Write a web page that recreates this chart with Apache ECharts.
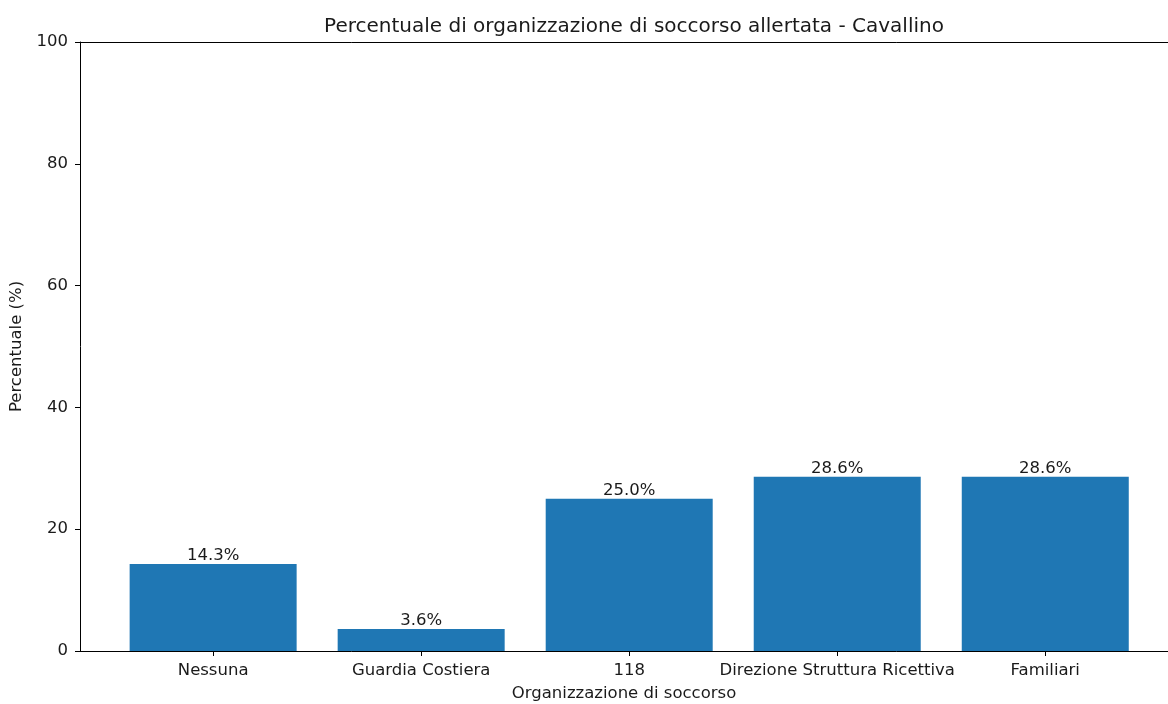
<!DOCTYPE html>
<html>
<head>
<meta charset="utf-8">
<script src="https://cdn.jsdelivr.net/npm/echarts@6/dist/echarts.min.js"></script>
<style>
  html, body { margin: 0; padding: 0; background: #fff; }
  #chart { width: 1168px; height: 704px; }
</style>
</head>
<body>
<div id="chart"></div>
<script>
// Categories and percentages of the alerted rescue organisations
const categories = ['Nessuna', 'Guardia Costiera', '118', 'Direzione Struttura Ricettiva', 'Familiari'];
const percentages = [14.3, 3.6, 25.0, 28.6, 28.6];
const yTicks = [0, 20, 40, 60, 80, 100];

const FONT = 'DejaVu Sans';
const TEXT = '#1a1a1a';
const chart = echarts.init(document.getElementById('chart'), null, { renderer: 'canvas' });

const positions = categories.map((_, i) => i);
// visible x range in category units (the right edge runs to the page border)
const X_MIN = -0.64;
const X_MAX = 4.59;

chart.setOption({
  animation: false,
  title: {
    text: 'Percentuale di organizzazione di soccorso allertata - Cavallino',
    left: 629,
    textAlign: 'center',
    top: 12,
    textStyle: { fontFamily: FONT, fontSize: 20, fontWeight: 'normal', color: TEXT }
  },
  grid: { left: 80, top: 42, right: 0, bottom: 53, containLabel: false, outerBoundsMode: 'none' },
  xAxis: [{
    type: 'value',
    min: X_MIN,
    max: X_MAX,
    name: 'Organizzazione di soccorso',
    nameLocation: 'middle',
    nameGap: 34,
    nameTextStyle: { fontFamily: FONT, fontSize: 16.5, color: TEXT },
    splitLine: { show: false },
    axisLine: { show: true, onZero: false, lineStyle: { color: '#000', width: 1 } },
    axisTick: { show: true, length: 5, lineStyle: { color: '#000' }, customValues: positions },
    axisLabel: {
      customValues: positions,
      fontFamily: FONT, fontSize: 16.5, color: TEXT, margin: 11,
      formatter: v => categories[Math.round(v)]
    }
  }, {
    type: 'value',
    position: 'top',
    min: X_MIN,
    max: X_MAX,
    splitLine: { show: false },
    axisLine: { show: true, onZero: false, lineStyle: { color: '#000', width: 1 } },
    axisTick: { show: false },
    axisLabel: { show: false }
  }],
  yAxis: {
    type: 'value',
    min: 0,
    max: 100,
    interval: 20,
    name: 'Percentuale (%)',
    nameLocation: 'middle',
    nameGap: 52,
    nameTextStyle: { fontFamily: FONT, fontSize: 16.5, color: TEXT },
    splitLine: { show: false },
    axisLine: { show: true, onZero: false, lineStyle: { color: '#000', width: 1 } },
    axisTick: { show: true, length: 5, lineStyle: { color: '#000' } },
    axisLabel: {
      fontFamily: FONT, fontSize: 16.5, color: TEXT, margin: 12,
      formatter: v => (yTicks.includes(v) ? String(v) : '')
    }
  },
  series: [{
    type: 'bar',
    xAxisIndex: 0,
    data: percentages.map((v, i) => [positions[i], v]),
    barWidth: 167,
    itemStyle: { color: '#1f77b4' },
    label: {
      show: true,
      position: 'top',
      distance: 0,
      fontFamily: FONT, fontSize: 16.5, color: TEXT,
      formatter: p => p.value[1].toFixed(1) + '%'
    }
  }]
});
</script>
</body>
</html>
